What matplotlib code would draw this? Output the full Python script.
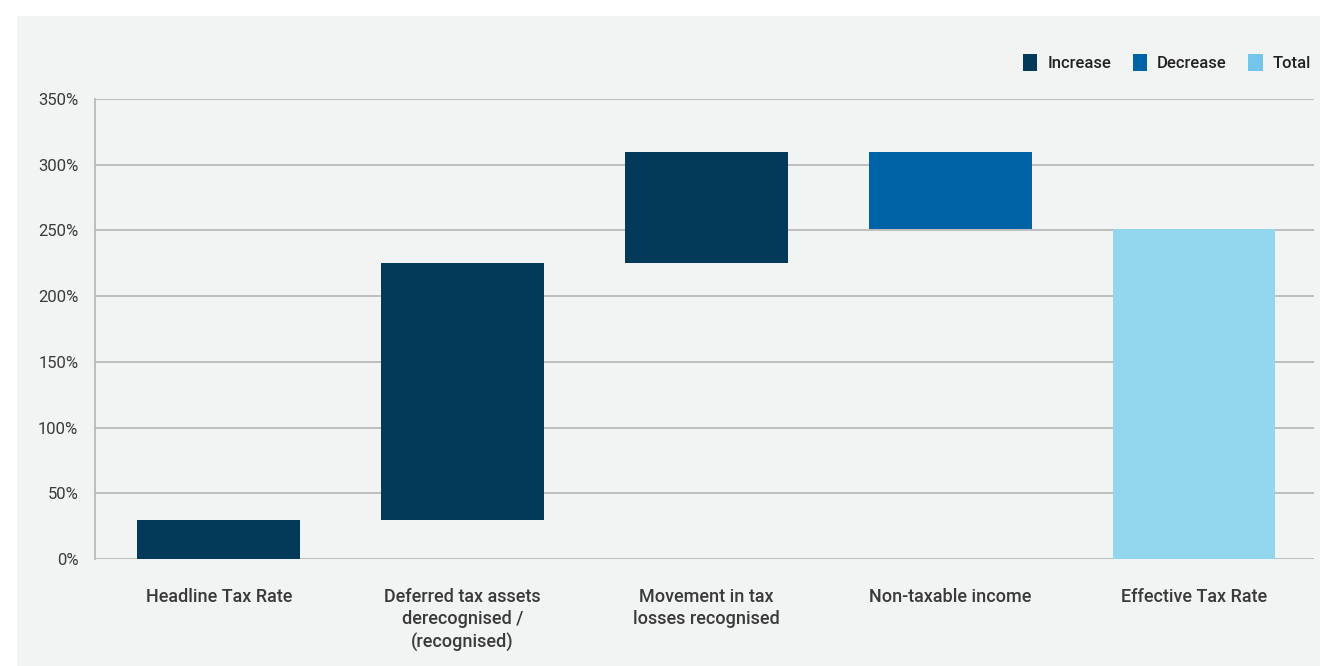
import matplotlib
matplotlib.use("Agg")
import matplotlib.pyplot as plt
from matplotlib.patches import Rectangle, Patch
import numpy as np

categories = ["Headline Tax Rate", "Deferred tax assets\nderecognised /\n(recognised)",
              "Movement in tax\nlosses recognised", "Non-taxable income", "Effective Tax Rate"]
changes = [30, 195, 85, -59, 251]
kinds = ["Increase", "Increase", "Increase", "Decrease", "Total"]
yticks = [0, 50, 100, 150, 200, 250, 300, 350]
ytick_labels = ["0%", "50%", "100%", "150%", "200%", "250%", "300%", "350%"]

colors = {"Increase": "#033a5a", "Decrease": "#0063a6", "Total": "#93d7ef"}
legend_colors = {"Increase": "#033a5a", "Decrease": "#0063a6", "Total": "#74c5ea"}

plt.rcParams['font.family'] = ['Roboto', 'DejaVu Sans']

fig = plt.figure(figsize=(13.2, 6.66), dpi=100)
fig.patch.set_facecolor("white")
fig.add_artist(Rectangle((17/1320, 0), 1 - 17/1320, 1 - 16/666, transform=fig.transFigure,
                         facecolor="#f2f3f3", edgecolor="none", zorder=0))

ax = fig.add_axes([95/1320, 1 - 559/666, (1314 - 95)/1320, (559 - 99)/666])
ax.set_facecolor("none")

bottoms, heights = [], []
running = 0
for c, k in zip(changes, kinds):
    if k == "Total":
        bottoms.append(0); heights.append(c); running = c
    elif c >= 0:
        bottoms.append(running); heights.append(c); running += c
    else:
        bottoms.append(running + c); heights.append(-c); running += c

x = np.arange(len(categories))
ax.bar(x, heights, bottom=bottoms, width=0.668, color=[colors[k] for k in kinds], zorder=3)

ax.set_xlim(-0.508, 4.492)
ax.set_ylim(0, 350)
ax.set_yticks(yticks)
ax.set_yticklabels(ytick_labels, fontsize=12, color="#3a3a3a")
ax.set_xticks(x)
ax.set_xticklabels(categories, fontsize=13, color="#3a3a3a", linespacing=1.3, va="top",
                   fontweight="medium")
ax.tick_params(axis="both", length=0)
ax.tick_params(axis="x", pad=21)
ax.tick_params(axis="y", pad=12)
ax.grid(axis="y", color="#b5b5b5", linewidth=1.2, zorder=0)
for s in ["top", "right", "bottom"]:
    ax.spines[s].set_visible(False)
ax.spines["left"].set_color("#b5b5b5")
ax.spines["left"].set_linewidth(1.2)

handles = [Patch(facecolor=legend_colors[k], edgecolor="none", label=k) for k in ["Increase", "Decrease", "Total"]]
leg = fig.legend(handles=handles, loc="upper right", bbox_to_anchor=(1326/1320, 1 - 39/666), ncol=3,
                 frameon=False, handlelength=0.85, handleheight=1.2, handletextpad=0.6,
                 columnspacing=1.3, fontsize=12)
for t in leg.get_texts():
    t.set_color("#222222")
    t.set_fontweight("medium")

fig.savefig("out.png", dpi=100, facecolor="white")
